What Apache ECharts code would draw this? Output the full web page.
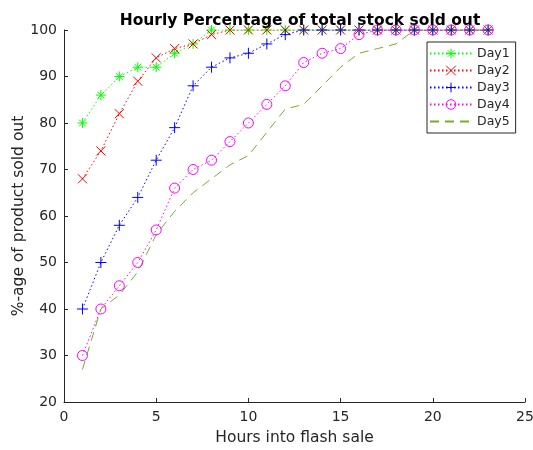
<!DOCTYPE html>
<html>
<head>
<meta charset="utf-8">
<script src="https://cdn.jsdelivr.net/npm/echarts@6/dist/echarts.min.js"></script>
<style>html,body{margin:0;padding:0;background:#fff}#c{width:533px;height:450px}</style>
</head>
<body>
<div id="c"></div>
<script>
const hours = [1,2,3,4,5,6,7,8,9,10,11,12,13,14,15,16,17,18,19,20,21,22,23];
const day1 = [80,86,90,92,92,95,97,100,100,100,100,100,100,100,100,100,100,100,100,100,100,100,100];
const day2 = [68,74,82,89,94,96,97,99,100,100,100,100,100,100,100,100,100,100,100,100,100,100,100];
const day3 = [40,50,58,64,72,79,88,92,94,95,97,99,100,100,100,100,100,100,100,100,100,100,100];
const day4 = [30,40,45,50,57,66,70,72,76,80,84,88,93,95,96,99,100,100,100,100,100,100,100];
const day5 = [27,40,43,48,56,61,65,68,71,73,78,83,84,88,92,95,96,97,100,100,100,100,100];
const seriesNames = ['Day1','Day2','Day3','Day4','Day5'];
const xTicks = [0,5,10,15,20,25];
const yTicks = [20,30,40,50,60,70,80,90,100];

const FONT = 'DejaVu Sans';
const TXT = '#262626';
const pair = (arr) => hours.map((h, i) => [h, arr[i]]);

const SYM_STAR = 'path://M5,0 L5,10 M0,5 L10,5 M1.6,1.6 L8.4,8.4 M8.4,1.6 L1.6,8.4';
const SYM_X = 'path://M0,0 L10,10 M10,0 L0,10';
const SYM_PLUS = 'path://M5,0 L5,10 M0,5 L10,5';

function mk(name, data, color, symbol, size, lineType) {
  const hasSym = symbol !== 'none';
  return {
    name, type: 'line', data: pair(data),
    symbol: hasSym ? symbol : 'circle', symbolSize: size, showSymbol: hasSym,
    color,
    lineStyle: { color, width: 1, type: lineType },
    itemStyle: {
      color: 'rgba(0,0,0,0)',
      borderColor: hasSym ? color : 'rgba(0,0,0,0)',
      borderWidth: 1
    },
    emphasis: { disabled: true },
    animation: false
  };
}

const chart = echarts.init(document.getElementById('c'), null, { renderer: 'canvas' });
chart.setOption({
  backgroundColor: '#fff',
  animation: false,
  title: {
    text: 'Hourly Percentage of total stock sold out',
    left: 295, top: 8, textAlign: 'center',
    textStyle: { fontFamily: FONT, fontSize: 15.5, fontWeight: 'bold', color: '#000' }
  },
  legend: {
    orient: 'vertical',
    left: 427, top: 42,
    data: seriesNames,
    borderColor: TXT, borderWidth: 1, backgroundColor: '#fff',
    padding: [5, 6, 5, 2],
    itemWidth: 42, itemHeight: 12, itemGap: 4,
    itemStyle: { borderWidth: 1 },
    textStyle: { fontFamily: FONT, fontSize: 12.5, color: TXT },
    selectedMode: false
  },
  grid: { left: 64, right: 8, top: 30, bottom: 48, containLabel: false, outerBoundsMode: 'none' },
  xAxis: {
    type: 'value', min: xTicks[0], max: xTicks[xTicks.length - 1], interval: 5,
    name: 'Hours into flash sale', nameLocation: 'middle', nameGap: 28, nameMoveOverlap: false,
    nameTextStyle: { fontFamily: FONT, fontSize: 15.5, color: TXT },
    axisLine: { show: true, lineStyle: { color: TXT, width: 1 } },
    axisTick: { show: true, inside: true, length: 4, lineStyle: { color: TXT } },
    axisLabel: { fontFamily: FONT, fontSize: 14, color: TXT, margin: 8, hideOverlap: false },
    splitLine: { show: false }
  },
  yAxis: {
    type: 'value', min: yTicks[0], max: yTicks[yTicks.length - 1], interval: 10,
    name: '%-age of product sold out', nameLocation: 'middle', nameGap: 37, nameMoveOverlap: false,
    nameTextStyle: { fontFamily: FONT, fontSize: 15.5, color: TXT },
    axisLine: { show: true, lineStyle: { color: TXT, width: 1 } },
    axisTick: { show: true, inside: true, length: 4, lineStyle: { color: TXT } },
    axisLabel: { fontFamily: FONT, fontSize: 14, color: TXT, margin: 7 },
    splitLine: { show: false }
  },
  series: [
    mk('Day1', day1, '#00ff00', SYM_STAR, 10, [1.5, 2.5]),
    mk('Day2', day2, '#ff0000', SYM_X, 9, [1.5, 2.5]),
    mk('Day3', day3, '#0000ff', SYM_PLUS, 11, [1.5, 2.5]),
    mk('Day4', day4, '#ff00ff', 'circle', 10, [1.5, 2.5]),
    mk('Day5', day5, '#77ac30', 'none', 0, [9, 6])
  ]
});
</script>
</body>
</html>
